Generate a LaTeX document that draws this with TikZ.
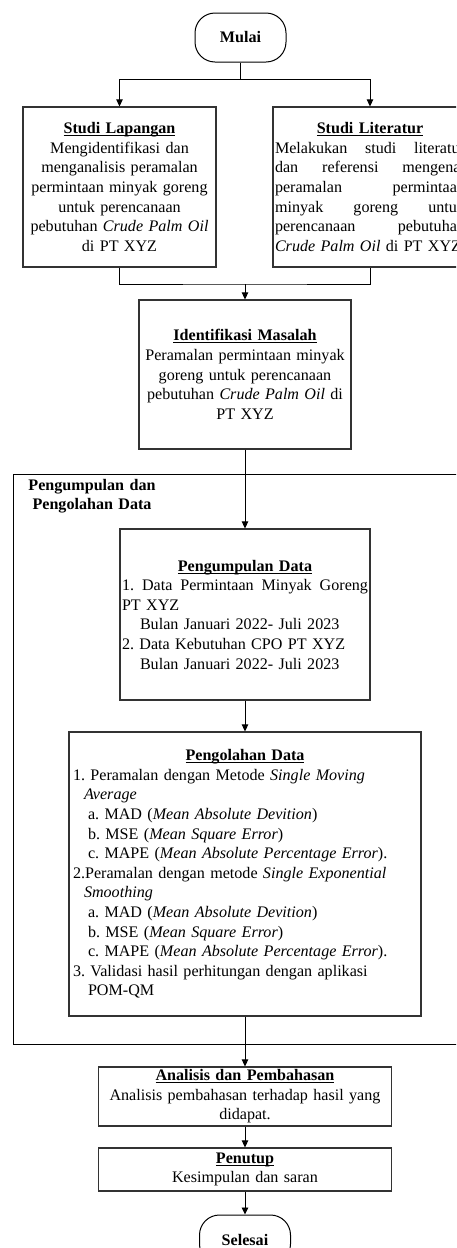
\documentclass[tikz,border=0pt]{standalone}
\usepackage{fontspec}
\setmainfont{Liberation Serif}
\usetikzlibrary{arrows.meta}
\frenchspacing
\newcommand\myul[1]{\setbox0\hbox{#1}\rlap{\rule[-2.4pt]{\wd0}{0.9pt}}\box0}
\newcommand\jline[2]{\leavevmode\hbox to #1{#2}}
\tikzset{
  base/.style={font=\fontsize{16.1}{19.6}\selectfont\frenchspacing, inner sep=0pt},
  boxn/.style={base, draw=black!80, line width=1.2pt},
  term/.style={base, draw=black, line width=1pt, rounded corners=20pt, minimum width=91pt, minimum height=49pt},
  conn/.style={line width=0.9pt, black},
  arr/.style={conn, -{Triangle[length=7pt,width=6.5pt]}},
}
\begin{document}
\begin{tikzpicture}[x=1pt,y=-1pt]
\useasboundingbox (0,0) rectangle (456,1248);
\clip (0,0) rectangle (456,1248);
% group container
\node[draw=black, line width=1.1pt, minimum width=462pt, minimum height=570pt, anchor=north west, inner sep=0pt] (grp) at (13,474) {};
\node[base, text width=140pt, align=center] (grplbl) at (92,496) {\textbf{Pengumpulan dan}\\\textbf{Pengolahan Data}};
% terminals
\node[term] (mulai) at (240.5,37.5) {\textbf{Mulai}};
\node[term] (selesai) at (245,1239.5) {\textbf{Selesai}};
% boxes
\node[boxn, minimum width=193pt, minimum height=160pt, text width=189pt, align=center] (lap) at (119.5,187)
 {\myul{\textbf{Studi Lapangan}}\\ Mengidentifikasi dan\\ menganalisis peramalan\\ permintaan minyak goreng\\ untuk perencanaan\\ pebutuhan \textit{Crude Palm Oil}\\ di PT XYZ};
\node[boxn, minimum width=194pt, minimum height=160pt, text width=190pt, align=left] (lit) at (370,187)
 {\jline{190pt}{\hfill\myul{\textbf{Studi Literatur}}\hfill}\\
  \jline{190pt}{Melakukan\hfill studi\hfill literatur}\\
  \jline{190pt}{dan\hfill referensi\hfill mengenai}\\
  \jline{190pt}{peramalan\hfill permintaan}\\
  \jline{190pt}{minyak\hfill goreng\hfill untuk}\\
  \jline{190pt}{perencanaan\hfill pebutuhan}\\
  \leavevmode\hbox{\textit{Crude Palm Oil} di PT XYZ}};
\node[boxn, minimum width=212pt, minimum height=149pt, text width=208pt, align=center] (iden) at (245,374.5)
 {\myul{\textbf{Identifikasi Masalah}}\\ Peramalan permintaan minyak\\ goreng untuk perencanaan\\ pebutuhan \textit{Crude Palm Oil} di\\ PT XYZ};
\node[boxn, minimum width=250pt, minimum height=171pt, text width=246pt, align=left] (pgm) at (245,614.5)
 {\jline{246pt}{\hfill\myul{\textbf{Pengumpulan Data}}\hfill}\\
  \jline{246pt}{1.\hfill Data\hfill Permintaan\hfill Minyak\hfill Goreng}\\
  PT XYZ\\
  \hspace*{18pt}Bulan Januari 2022- Juli 2023\\
  2. Data Kebutuhan CPO PT XYZ\\
  \hspace*{18pt}Bulan Januari 2022- Juli 2023};
\node[boxn, minimum width=352pt, minimum height=284pt, text width=344pt, align=left] (pgl) at (245,874)
 {\jline{344pt}{\hfill\myul{\textbf{Pengolahan Data}}\hfill}\\
  1. Peramalan dengan Metode \textit{Single Moving}\\
  \hspace*{11pt}\textit{Average}\\
  \hspace*{15pt}a. MAD (\textit{Mean Absolute Devition})\\
  \hspace*{15pt}b. MSE (\textit{Mean Square Error})\\
  \hspace*{15pt}c. MAPE (\textit{Mean Absolute Percentage Error}).\\
  2.Peramalan dengan metode \textit{Single Exponential}\\
  \hspace*{11pt}\textit{Smoothing}\\
  \hspace*{15pt}a. MAD (\textit{Mean Absolute Devition})\\
  \hspace*{15pt}b. MSE (\textit{Mean Square Error})\\
  \hspace*{15pt}c. MAPE (\textit{Mean Absolute Percentage Error}).\\
  3. Validasi hasil perhitungan dengan aplikasi\\
  \hspace*{15pt}POM-QM};
\node[boxn, minimum width=293pt, minimum height=59pt, text width=289pt, align=center] (ana) at (245,1096.5)
 {\myul{\textbf{Analisis dan Pembahasan}}\\ Analisis pembahasan terhadap hasil yang\\ didapat.};
\node[boxn, minimum width=293pt, minimum height=43pt, text width=289pt, align=center] (tutup) at (245,1169.5)
 {\myul{\textbf{Penutup}}\\ Kesimpulan dan saran};
% connectors
\draw[conn] (mulai.south) -- ++(0,17) coordinate (j1);
\draw[arr] (j1) -| (lap.north);
\draw[arr] (j1) -| (lit.north);
\coordinate (j2) at (245,284);
\draw[conn] (lap.south) |- (j2) -| (lit.south);
\draw[arr] (j2) -- (iden.north);
\draw[arr] (iden.south) -- (pgm.north);
\draw[arr] (pgm.south) -- (pgl.north);
\draw[arr] (pgl.south) -- (ana.north);
\draw[arr] (ana.south) -- (tutup.north);
\draw[arr] (tutup.south) -- (selesai.north);
\end{tikzpicture}
\end{document}
